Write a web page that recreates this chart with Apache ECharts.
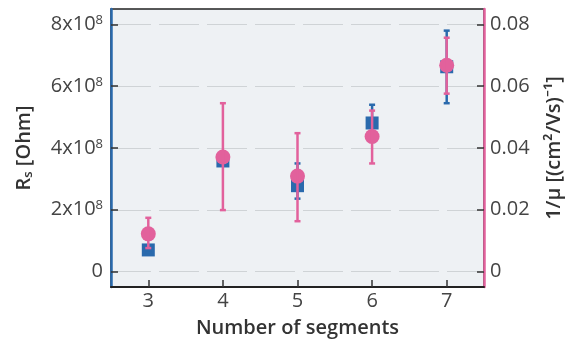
<!DOCTYPE html>
<html>
<head>
<meta charset="utf-8">
<script src="https://cdn.jsdelivr.net/npm/echarts@6/dist/echarts.min.js"></script>
<style>
  html, body { margin: 0; padding: 0; background: #fff; }
  #chart { width: 567px; height: 340px; }
</style>
</head>
<body>
<div id="chart"></div>
<script>
// segments on the x axis
const segments = [3, 4, 5, 6, 7]
// Rs [Ohm] with error bar low / high
const rsValues = [0.7e8, 3.58e8, 2.78e8, 4.81e8, 6.63e8]
const rsLow = [0.62e8, 3.45e8, 2.36e8, 4.2e8, 5.45e8]
const rsHigh = [0.78e8, 3.7e8, 3.5e8, 5.4e8, 7.8e8]
// 1/mu with error bar low / high
const muValues = [0.0122, 0.0371, 0.0309, 0.0437, 0.0668]
const muLow = [0.0076, 0.0199, 0.0163, 0.035, 0.0576]
const muHigh = [0.0174, 0.0545, 0.0448, 0.0521, 0.0757]
// tick labels
const leftTicks = [0, 2e8, 4e8, 6e8, 8e8]
const rightTicks = [0, 0.02, 0.04, 0.06, 0.08]

const blue = '#2a6aad'
const pink = '#e2619c'
const font = '"Open Sans", "Noto Sans", sans-serif'

function errorBars(low, high, color) {
  return {
    type: 'custom',
    renderItem: function (params, api) {
      const x = api.value(0)
      const lo = api.coord([x, api.value(1)])
      const hi = api.coord([x, api.value(2)])
      const cap = 3
      const style = { stroke: color, lineWidth: 2.5 }
      return {
        type: 'group',
        children: [
          { type: 'line', shape: { x1: lo[0], y1: lo[1], x2: hi[0], y2: hi[1] }, style: style },
          { type: 'line', shape: { x1: lo[0] - cap, y1: lo[1], x2: lo[0] + cap, y2: lo[1] }, style: style },
          { type: 'line', shape: { x1: hi[0] - cap, y1: hi[1], x2: hi[0] + cap, y2: hi[1] }, style: style },
        ],
      }
    },
    data: segments.map((s, i) => [s, low[i], high[i]]),
  }
}

const mychart = echarts.init(document.getElementById('chart'))
const option = {
  animation: false,
  textStyle: { fontFamily: font },
  grid: {
    left: 111,
    right: 83,
    top: 9,
    bottom: 53,
    outerBoundsMode: 'none',
    containLabel: false,
    show: true,
    backgroundColor: '#eef1f4',
    borderColor: '#222',
    borderWidth: 1.5,
  },
  xAxis: {
    type: 'value',
    min: 2.5,
    max: 7.5,
    name: 'Number of segments',
    nameLocation: 'middle',
    nameGap: 31,
    nameTextStyle: { fontSize: 20, color: '#333', fontWeight: 600 },
    axisLine: { onZero: false, lineStyle: { color: '#222', width: 2 } },
    axisTick: { inside: true, length: 7, customValues: segments, lineStyle: { color: '#333', width: 1.5 } },
    axisLabel: { customValues: segments, fontSize: 20, color: '#444', margin: 4 },
    splitLine: { show: false },
  },
  yAxis: [
    {
      type: 'value',
      min: -0.5e8,
      max: 8.5e8,
      name: '{n|R}{sub|s}{n| [Ohm]}',
      nameLocation: 'middle',
      nameRotate: 90,
      nameGap: 76,
      nameTextStyle: {
        rich: {
          n: { fontSize: 20, color: '#333', fontWeight: 600, fontFamily: font },
          sub: { fontSize: 13, color: '#333', fontWeight: 600, fontFamily: font, padding: [9, 0, 0, 0] },
        },
      },
      axisLine: { show: true, onZero: false, lineStyle: { color: blue, width: 2.5 } },
      axisTick: { inside: true, length: 7, customValues: leftTicks, lineStyle: { color: '#333', width: 1.5 } },
      axisLabel: {
        customValues: leftTicks,
        margin: 8,
        formatter: (v) => (v === 0 ? '{n|0}' : '{n|' + v / 1e8 + 'x10}{sup|8}'),
        rich: {
          n: { fontSize: 20, color: '#444', fontFamily: font },
          sup: { fontSize: 13, color: '#444', fontFamily: font, padding: [0, 0, 8, 0] },
        },
      },
      splitLine: { show: true, lineStyle: { color: '#cfd3d6', type: [40, 8], width: 1 } },
    },
    {
      type: 'value',
      min: -0.005,
      max: 0.085,
      position: 'right',
      name: '1/μ [(cm²/Vs)⁻¹]',
      nameLocation: 'middle',
      nameRotate: 90,
      nameGap: 60,
      nameTextStyle: { fontSize: 20, color: '#333', fontWeight: 600 },
      axisLine: { show: true, onZero: false, lineStyle: { color: pink, width: 2.5 } },
      axisTick: { inside: true, length: 7, customValues: rightTicks, lineStyle: { color: '#333', width: 1.5 } },
      axisLabel: {
        customValues: rightTicks,
        fontSize: 20,
        color: '#444',
        margin: 6,
        formatter: (v) => (v === 0 ? '0' : v.toFixed(2)),
      },
      splitLine: { show: false },
    },
  ],
  series: [
    {
      type: 'scatter',
      yAxisIndex: 0,
      symbol: 'rect',
      symbolSize: 13,
      itemStyle: { color: blue, opacity: 1 },
      data: segments.map((s, i) => [s, rsValues[i]]),
      z: 2,
    },
    Object.assign(errorBars(rsLow, rsHigh, blue), { yAxisIndex: 0, z: 3 }),
    {
      type: 'scatter',
      yAxisIndex: 1,
      symbol: 'circle',
      symbolSize: 15,
      itemStyle: { color: pink, opacity: 1 },
      data: segments.map((s, i) => [s, muValues[i]]),
      z: 4,
    },
    Object.assign(errorBars(muLow, muHigh, pink), { yAxisIndex: 1, z: 5 }),
  ],
}
mychart.setOption(option)
window.addEventListener('resize', () => {
  mychart.resize()
})
</script>
</body>
</html>
